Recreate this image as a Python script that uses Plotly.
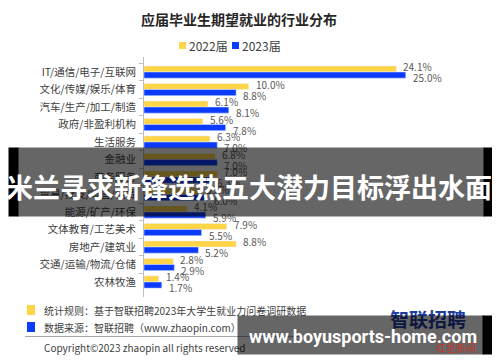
import plotly.graph_objects as go

categories = ["IT/通信/电子/互联网", "文化/传媒/娱乐/体育", "汽车/生产/加工/制造", "政府/非盈利机构",
              "生活服务", "金融业", "商务服务", "贸易/批发/零售/租赁", "能源/矿产/环保",
              "文体教育/工艺美术", "房地产/建筑业", "交通/运输/物流/仓储", "农林牧渔"]
v2022 = [24.1, 10.0, 6.1, 5.6, 6.3, 6.8, 7.0, 5.3, 4.1, 7.9, 8.8, 2.8, 1.4]
v2023 = [25.0, 8.8, 8.1, 7.8, 7.0, 7.0, 6.3, 6.0, 5.9, 5.5, 5.2, 2.9, 1.7]
series_names = ["2022届", "2023届"]

# the page body adds an 8px margin; lay out in screen coordinates and shift
OFF = 8
W, H = 500 - OFF, 362 - OFF
PX0, PX1, PY0, PY1 = 144, 480, 57, 297  # plot area in screen pixels
L, R = PX0 - OFF, W - (PX1 - OFF)
T, B = PY0 - OFF, H - (PY1 - OFF)
PW, PH = PX1 - PX0, PY1 - PY0
YELLOW = "#FFD548"
BLUE = "#0A3BFF"
FONT = "Noto Sans CJK SC"

def px(x):
    return (x - PX0) / PW

def py(y):
    return (PY1 - y) / PH

fig = go.Figure()
for name, vals, col in [(series_names[0], v2022, YELLOW), (series_names[1], v2023, BLUE)]:
    fig.add_trace(go.Bar(y=categories, x=vals, name=name, orientation="h", marker_color=col))

fig.update_layout(
    width=W, height=H, margin=dict(l=L, r=R, t=T, b=B, autoexpand=False),
    paper_bgcolor="white", plot_bgcolor="white",
    barmode="group", bargap=0.3, bargroupgap=0, showlegend=False,
    font=dict(family=FONT, color="#404040"),
)
fig.update_xaxes(range=[0, PW / 10.47], visible=False, automargin=False)
fig.update_yaxes(
    categoryorder="array", categoryarray=categories, autorange="reversed", automargin=False,
    showline=True, linecolor="#bfbfbf", linewidth=1,
    ticks="outside", tickson="boundaries", ticklen=4, tickcolor="#bfbfbf", ticklabelstandoff=5,
    tickfont=dict(size=10.5, color="#404040", family=FONT), showgrid=False,
)

shapes = []
annotations = []

# value labels
for vals, ys in [(v2022, 5.5), (v2023, -5.5)]:
    for c, v in zip(categories, vals):
        annotations.append(dict(text=f"{v:.1f}%", x=v, y=c, xref="x", yref="y", showarrow=False,
                                xanchor="left", yanchor="middle", xshift=5, yshift=ys,
                                font=dict(size=10, color="#595959", family=FONT)))

# title
annotations.append(dict(text="<b>应届毕业生期望就业的行业分布</b>", x=px(239), y=py(19), xref="paper", yref="paper",
                        showarrow=False, font=dict(size=14, color="#262626", family=FONT),
                        xanchor="center", yanchor="middle"))
# legend
for sx, tx, col, name in [(179, 187, YELLOW, series_names[0]), (232, 240, BLUE, series_names[1])]:
    shapes.append(dict(type="rect", xref="paper", yref="paper", x0=px(sx), x1=px(sx + 7),
                       y0=py(49), y1=py(42), fillcolor=col, line=dict(width=0)))
    annotations.append(dict(text=name, x=px(tx), y=py(45.5), xref="paper", yref="paper", showarrow=False,
                            font=dict(size=12, color="#404040", family=FONT), xanchor="left", yanchor="middle"))

# bottom notes
for y0, col, txt in [(305, YELLOW, "统计规则：基于智联招聘2023年大学生就业力问卷调研数据"),
                     (322, BLUE, "数据来源：智联招聘（www.zhaopin.com）")]:
    shapes.append(dict(type="rect", xref="paper", yref="paper", x0=px(27), x1=px(35),
                       y0=py(y0 + 10), y1=py(y0), fillcolor=col, line=dict(width=0)))
    annotations.append(dict(text=txt, x=px(42), y=py(y0 + 5.5), xref="paper", yref="paper", showarrow=False,
                            font=dict(size=10, color="#404040", family=FONT), xanchor="left", yanchor="middle"))
shapes.append(dict(type="line", xref="paper", yref="paper", x0=px(25), x1=px(300), y0=py(336.5), y1=py(336.5),
                   line=dict(color="#a6a6a6", width=1)))
annotations.append(dict(text="Copyright©2023 zhaopin all rights reserved", x=px(42), y=py(347.5),
                        xref="paper", yref="paper", showarrow=False,
                        font=dict(size=10, color="#404040", family=FONT), xanchor="left", yanchor="middle"))
# zhaopin logo
annotations.append(dict(text="<b>智联招聘</b>", x=px(428), y=py(318), xref="paper", yref="paper", showarrow=False,
                        font=dict(size=19, color="#1f3d9e", family=FONT), xanchor="center", yanchor="middle"))


def box(x0, y0, w, h, color):
    return dict(text=" ", x=px(x0), y=py(y0), xref="paper", yref="paper", showarrow=False,
                xanchor="left", yanchor="top", width=w, height=h, borderpad=0,
                bgcolor=color, font=dict(size=8))


# top overlay banner
annotations.append(box(17, 147, 466, 68, "rgba(0,0,0,0.6)"))
annotations.append(box(8, 147, 9, 68, "black"))
annotations.append(box(483, 147, 10, 68, "black"))
annotations.append(dict(text="<b>米兰寻求新锋选热五大潜力目标浮出水面</b>", x=px(249), y=py(186),
                        xref="paper", yref="paper", showarrow=False,
                        font=dict(size=27, color="white", family=FONT), xanchor="center", yanchor="middle"))

# bottom overlay banner
annotations.append(box(237, 315, 245, 38, "rgba(0,0,0,0.6)"))
annotations.append(box(482, 315, 9, 38, "black"))
annotations.append(dict(text="<b>www.boyusports-home.com</b>", x=px(363), y=py(336), xref="paper", yref="paper",
                        showarrow=False, font=dict(size=18, color="white", family="Roboto"),
                        xanchor="center", yanchor="middle"))
annotations.append(dict(text="红星新闻", x=px(456), y=py(347), xref="paper", yref="paper", showarrow=False,
                        font=dict(size=10, color="#c0392b", family=FONT), xanchor="center", yanchor="middle"))

fig.update_layout(shapes=shapes, annotations=annotations)
fig.write_html("out.html")
